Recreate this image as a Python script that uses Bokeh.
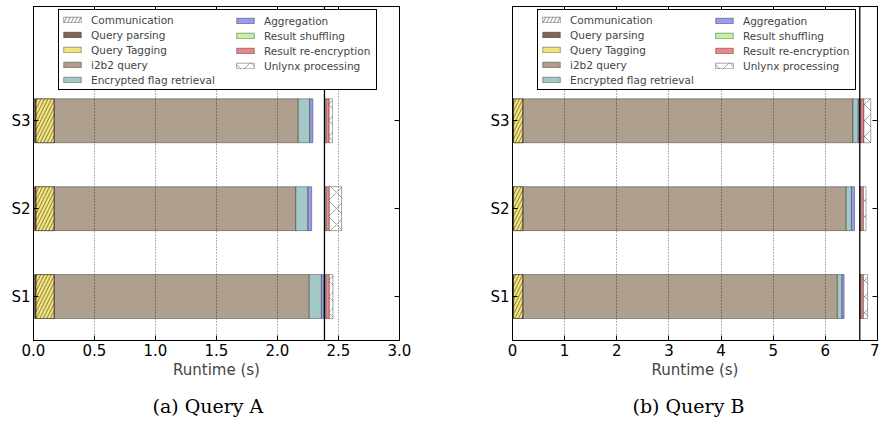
import numpy as np
from bokeh.plotting import figure
from bokeh.models import (Range1d, LinearAxis, FixedTicker, Span, Legend, LegendItem,
                          Title, PrintfTickFormatter)
from bokeh.layouts import row
from bokeh.embed import file_html
from bokeh.resources import INLINE

# ---------------- data ----------------
scenarios = ["S1", "S2", "S3"]
scenario_pos = [0, 1, 2]

# Query A (seconds per stage)
a_parsing = [0.02, 0.02, 0.02]
a_tagging = [0.15, 0.15, 0.15]
a_communication = [0.15, 0.15, 0.15]
a_i2b2 = [2.09, 1.98, 2.00]
a_flag = [0.10, 0.10, 0.095]
a_aggregation = [0.02, 0.03, 0.025]
a_sync = 2.385
a_shuffling = [0.012, 0.012, 0.012]
a_reencryption = [0.028, 0.028, 0.027]
a_unlynx = [0.03, 0.10, 0.026]

# Query B (seconds per stage)
b_parsing = [0.02, 0.02, 0.02]
b_tagging = [0.18, 0.18, 0.18]
b_communication = [0.18, 0.18, 0.18]
b_i2b2 = [6.03, 6.20, 6.33]
b_flag = [0.09, 0.10, 0.10]
b_aggregation = [0.04, 0.06, 0.02]
b_sync = 6.66
b_shuffling = [0.02, 0.02, 0.02]
b_reencryption = [0.05, 0.05, 0.06]
b_unlynx = [0.08, 0.05, 0.13]

a_ticks = [0.0, 0.5, 1.0, 1.5, 2.0, 2.5, 3.0]
b_ticks = [0, 1, 2, 3, 4, 5, 6, 7]

colors = {
    "Query parsing": "#7f6657",
    "Query Tagging": "#f3e37e",
    "i2b2 query": "#ae9f8f",
    "Encrypted flag retrieval": "#a3c8c6",
    "Aggregation": "#9a9af0",
    "Result shuffling": "#c2f2a4",
    "Result re-encryption": "#e8868c",
    "Unlynx processing": "white",
}

FONT = "DejaVu Sans"


def style_axis(ax, ticker, labels=True):
    ax.ticker = ticker
    ax.major_tick_in = 5
    ax.major_tick_out = 0
    ax.minor_tick_line_color = None
    ax.axis_line_color = "black"
    ax.major_tick_line_color = "black"
    if labels:
        ax.major_label_text_font = FONT
        ax.major_label_text_font_size = "15px"
        ax.major_label_text_color = "black"
        ax.major_label_standoff = 3
    else:
        ax.major_label_text_font_size = "1px"
        ax.major_label_text_color = None
        ax.major_label_standoff = 0


def make_panel(width, bl, br, x_max, ticks, fmt, parsing, tagging, comm, i2b2, flag, agg,
               sync, shuf, reenc, unlynx, caption, cap_offset):
    p = figure(width=width, height=428, x_range=Range1d(0, x_max), y_range=Range1d(-0.5, 3.3),
               output_backend="svg", toolbar_location=None, title=None,
               min_border_left=bl, min_border_right=br, min_border_top=6, min_border_bottom=88)
    p.outline_line_color = "black"
    p.outline_line_alpha = 1
    p.background_fill_color = "white"
    p.border_fill_color = "white"

    xt = FixedTicker(ticks=ticks)
    yt = FixedTicker(ticks=scenario_pos)
    style_axis(p.xaxis[0], xt)
    p.xaxis[0].formatter = PrintfTickFormatter(format=fmt)
    p.xaxis[0].axis_label = "Runtime (s)"
    p.xaxis[0].axis_label_text_font = FONT
    p.xaxis[0].axis_label_text_font_size = "15px"
    p.xaxis[0].axis_label_text_font_style = "normal"
    p.xaxis[0].axis_label_standoff = 2
    style_axis(p.yaxis[0], yt)
    p.yaxis[0].major_label_overrides = {i: s for i, s in zip(scenario_pos, scenarios)}

    top = LinearAxis(); style_axis(top, xt, labels=False)
    right = LinearAxis(); style_axis(right, yt, labels=False)
    p.add_layout(top, "above")
    p.add_layout(right, "right")

    p.xgrid.ticker = xt
    p.xgrid.grid_line_color = "black"
    p.xgrid.grid_line_alpha = 0.6
    p.xgrid.grid_line_dash = "1 2"
    p.xgrid.grid_line_width = 1
    p.xgrid.level = "guide"
    p.ygrid.visible = False

    y = scenario_pos
    rends = {}
    left = np.zeros(3)
    for name, vals in [("Query parsing", parsing), ("Query Tagging", tagging), ("i2b2 query", i2b2),
                       ("Encrypted flag retrieval", flag), ("Aggregation", agg)]:
        v = np.array(vals, dtype=float)
        rends[name] = p.hbar(y=y, left=left, right=left + v, height=0.5,
                             fill_color=colors[name], line_color="black", line_alpha=0.35)
        left = left + v
    cl = np.array(parsing, dtype=float)
    rends["Communication"] = p.hbar(y=y, left=cl, right=cl + np.array(comm), height=0.5,
                                    fill_alpha=0, line_color="black", line_alpha=0.35,
                                    hatch_pattern="/", hatch_color="black", hatch_alpha=0.75,
                                    hatch_scale=7, hatch_weight=0.6)
    left = np.full(3, sync)
    for name, vals in [("Result shuffling", shuf), ("Result re-encryption", reenc),
                       ("Unlynx processing", unlynx)]:
        v = np.array(vals, dtype=float)
        kw = {}
        if name == "Unlynx processing":
            kw = dict(hatch_pattern="x", hatch_color="#444444", hatch_alpha=0.8,
                      hatch_scale=16, hatch_weight=0.6)
        rends[name] = p.hbar(y=y, left=left, right=left + v, height=0.5,
                             fill_color=colors[name], line_color="black", line_alpha=0.35, **kw)
        left = left + v

    p.add_layout(Span(location=sync, dimension="height", line_color="black", line_width=1.3))

    col1 = ["Communication", "Query parsing", "Query Tagging", "i2b2 query", "Encrypted flag retrieval"]
    col2 = ["Aggregation", "Result shuffling", "Result re-encryption", "Unlynx processing"]
    common = dict(orientation="vertical", padding=2, spacing=0, label_height=15, glyph_height=7,
                  glyph_width=22, label_standoff=8, label_text_font=FONT,
                  label_text_font_size="10.5px", margin=0)
    leg1 = Legend(items=[LegendItem(label=n, renderers=[rends[n]]) for n in col1],
                  location=(25, 250), label_width=283, border_line_color="black",
                  border_line_width=1, border_line_alpha=1,
                  background_fill_color="white", background_fill_alpha=1, **common)
    leg2 = Legend(items=[LegendItem(label=n, renderers=[rends[n]]) for n in col2],
                  location=(199, 265), border_line_alpha=0, background_fill_alpha=0, **common)
    p.add_layout(leg1)
    p.add_layout(leg2)

    p.add_layout(Title(text=caption, align="left", offset=cap_offset, text_font="DejaVu Serif",
                       text_font_size="19px", text_font_style="normal", text_color="black",
                       standoff=23), "below")
    return p


pa = make_panel(440, 33, 41, 3.0, a_ticks, "%.1f", a_parsing, a_tagging, a_communication, a_i2b2,
                a_flag, a_aggregation, a_sync, a_shuffling, a_reencryption, a_unlynx,
                "(a) Query A", 119)
pb = make_panel(439, 72, 2, 7, b_ticks, "%d", b_parsing, b_tagging, b_communication, b_i2b2,
                b_flag, b_aggregation, b_sync, b_shuffling, b_reencryption, b_unlynx,
                "(b) Query B", 120)

layout = row(pa, pb)
open("out.html", "w").write(file_html(layout, INLINE))
